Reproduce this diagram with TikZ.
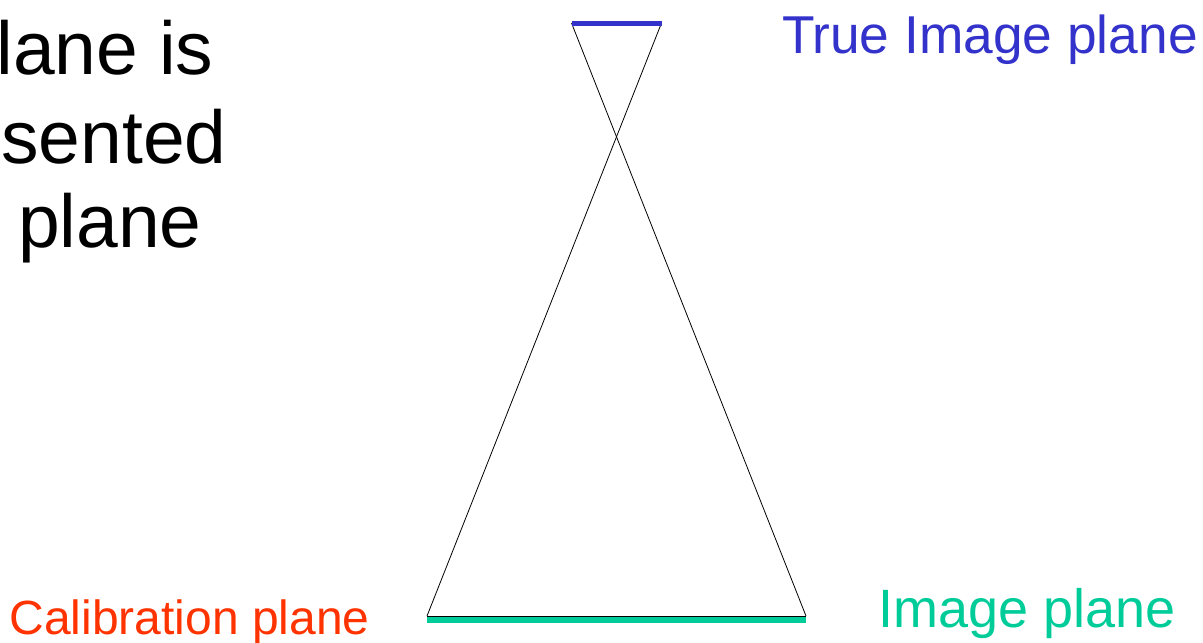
\documentclass[tikz,border=0pt]{standalone}
\usepackage{fontspec}
\setmainfont{Liberation Sans}
\definecolor{trueblue}{HTML}{3333CC}
\definecolor{imggreen}{HTML}{00CC99}
\definecolor{calred}{HTML}{FF3300}
\begin{document}
\begin{tikzpicture}[x=1pt,y=-1pt,
  lbl/.style={anchor=base west,inner sep=0pt,outer sep=0pt},
  ray/.style={draw=black,line width=0.8pt}]
\useasboundingbox (0,0) rectangle (1203,643);
% plane ends
\coordinate (tl) at (571.5,23);
\coordinate (tr) at (661.5,23);
\coordinate (bl) at (427,616);
\coordinate (br) at (806,616);
\coordinate (gl) at (427,620.3);
\coordinate (gr) at (805.5,620.3);
% rays
\draw[ray] (tl) -- (br);
\draw[ray] (tr) -- (bl);
\draw[ray] (bl) -- (br);
% planes
\draw[trueblue,line width=5pt] (tl) -- (tr);
\draw[imggreen,line width=6pt] (gl) -- (gr);
% labels
\node[lbl,text=trueblue,font=\fontsize{53.3}{62}\selectfont] (ti) at (782,53) {True Image plane};
\node[lbl,text=imggreen,font=\fontsize{54}{62}\selectfont] (ip) at (878,627) {Image plane};
\node[lbl,text=calred,font=\fontsize{48}{55}\selectfont] (cp) at (9.5,634) {Calibration plane};
\node[lbl,font=\fontsize{75}{87}\selectfont] (t1) at (-3.5,74) {lane is};
\node[lbl,font=\fontsize{75}{87}\selectfont] (t2) at (1.5,163) {sented};
\node[lbl,font=\fontsize{75}{87}\selectfont] (t3) at (18,247) {plane};
\end{tikzpicture}
\end{document}
